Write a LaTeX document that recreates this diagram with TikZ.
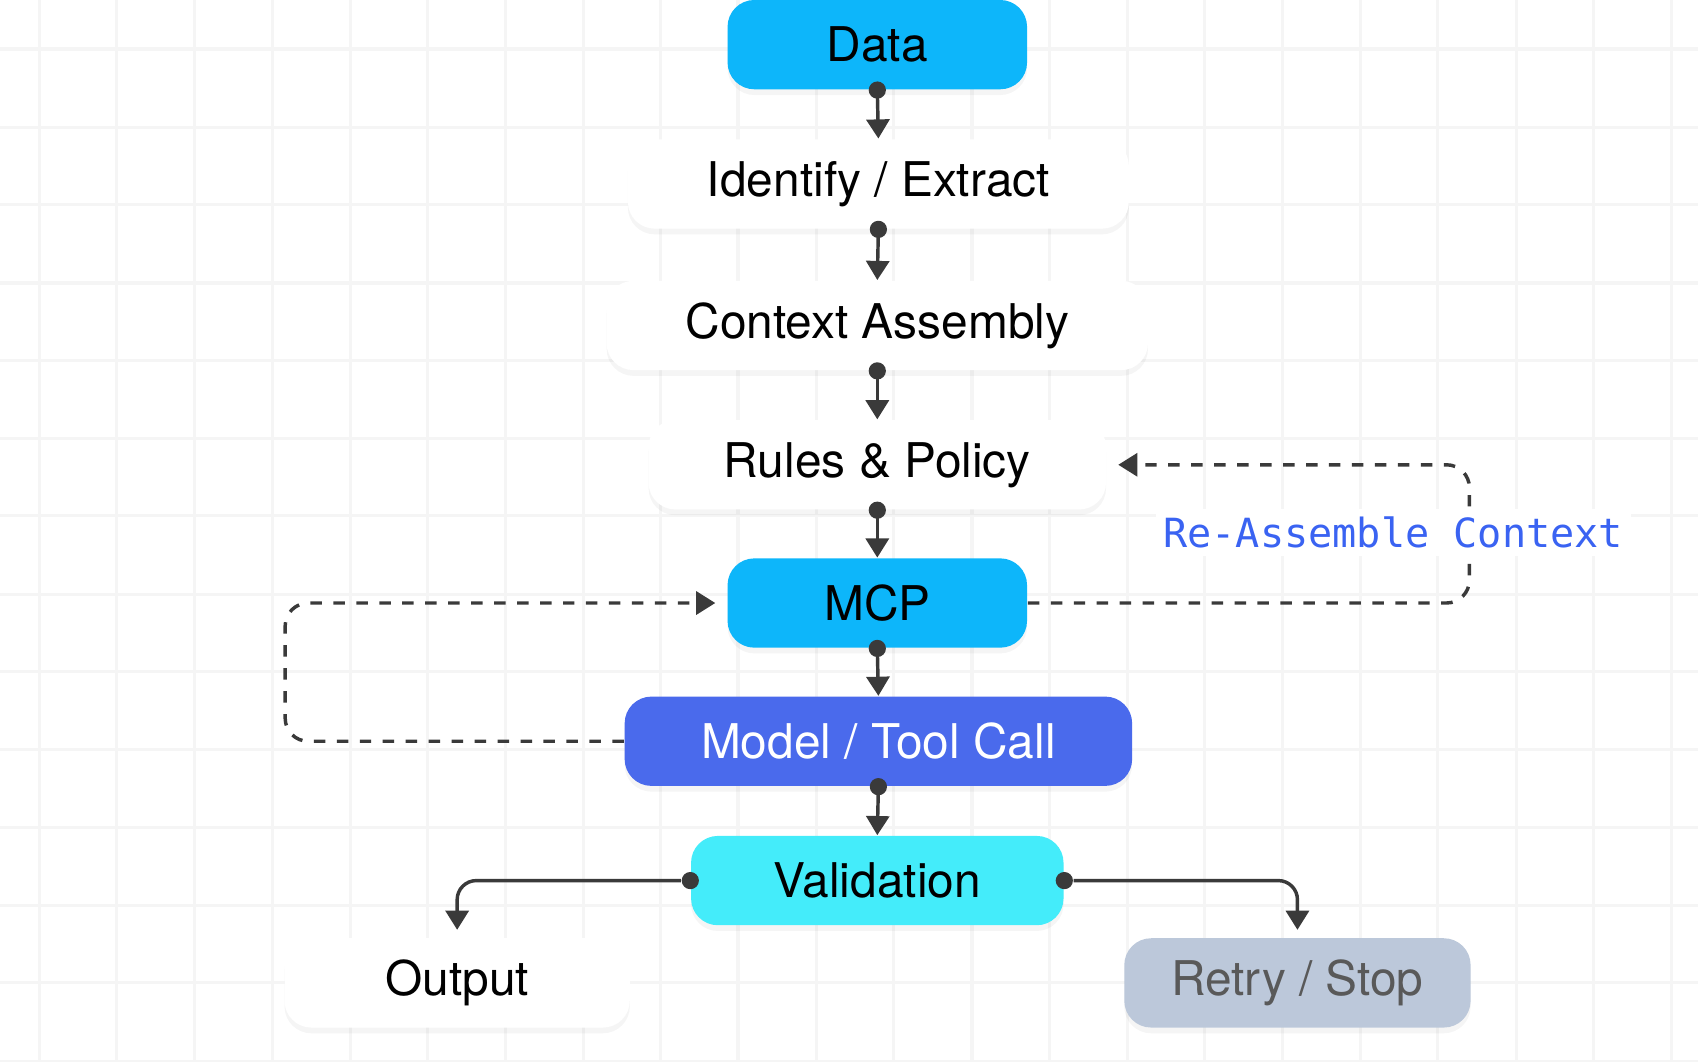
\documentclass[tikz,border=0pt]{standalone}
\usepackage{fontspec}
\setmainfont{TeX Gyre Heros}
\setmonofont{DejaVu Sans Mono}
\usetikzlibrary{positioning,shadows,arrows.meta}
\definecolor{skyblue}{HTML}{0DB6FA}
\definecolor{royal}{HTML}{4A6AEC}
\definecolor{aqua}{HTML}{44ECFA}
\definecolor{slate}{HTML}{BCC8DA}
\definecolor{linkblue}{HTML}{3A63F2}
\definecolor{wire}{HTML}{3A3A3A}
\tikzset{
  box/.style={rounded corners=7pt,minimum height=0.82cm,font=\fontsize{12.5}{14}\selectfont,
    drop shadow={shadow xshift=0pt,shadow yshift=-1.5pt,opacity=0.04,fill=black}},
  plain/.style={box,fill=white},
  wire/.style={draw=wire,line width=0.9pt,-{Triangle[length=5pt,width=6pt]}},
  loop/.style={wire,dashed,rounded corners=6pt},
  dot/.style={circle,fill=wire,inner sep=0pt,minimum size=4.5pt}
}
\begin{document}
\begin{tikzpicture}[x=0.01cm,y=-0.01cm]
  \useasboundingbox (0,0) rectangle (1560,975);
  % background grid
  \foreach \gx in {36,107,179,250,322,393,464,536,607,678,750,821,893,964,1036,1107,1178,1250,1321,1393,1464,1536}
    \draw[gray!8,line width=0.8pt] (\gx,0) -- (\gx,975);
  \foreach \gy in {45,117,188,260,331,403,474,546,617,689,760,832,903,975}
    \draw[gray!8,line width=0.8pt] (0,\gy) -- (1560,\gy);

  \node[box,fill=skyblue,minimum width=2.75cm] (data) at (806,41) {Data};
  \node[plain,minimum width=4.6cm] (ident) at (807,169) {Identify / Extract};
  \node[plain,minimum width=4.97cm] (ctx) at (806,299) {Context Assembly};
  \node[plain,minimum width=4.2cm] (rules) at (806,427) {Rules \& Policy};
  \node[box,fill=skyblue,minimum width=2.75cm] (mcp) at (806,554) {MCP};
  \node[box,fill=royal,text=white,minimum width=4.66cm] (model) at (807,681) {Model / Tool Call};
  \node[box,fill=aqua,minimum width=3.42cm] (valid) at (806,809) {Validation};
  \node[plain,minimum width=3.17cm] (out) at (420,903) {Output};
  \node[box,fill=slate,text=black!65,minimum width=3.18cm] (retry) at (1192,903) {Retry / Stop};

  % main chain
  \foreach \a/\b in {data/ident,ident/ctx,ctx/rules,rules/mcp,mcp/model,model/valid}{
    \node[dot] at (\a.south) {};
    \draw[wire] (\a.south) -- (\b.north);
  }

  % branches
  \node[dot] (vl) at (valid.west) {};
  \node[dot] (vr) at (valid.east) {};
  \draw[wire,rounded corners=5pt] (vl) -| ([yshift=2pt]out.north);
  \draw[wire,rounded corners=5pt] (vr) -| ([yshift=2pt]retry.north);

  % feedback loops
  \coordinate (lbend) at (262,681);
  \draw[loop] (model.west) -- (lbend) |- ([xshift=-3pt]mcp.west);
  \coordinate (rbend) at (1350,554);
  \draw[loop] (mcp.east) -- (rbend) |- ([xshift=3pt]rules.east);
  \node[font=\ttfamily\fontsize{10.5}{12}\selectfont,text=linkblue,fill=white,inner sep=2pt] (reasm) at (1280,489) {Re-Assemble Context};
\end{tikzpicture}
\end{document}
